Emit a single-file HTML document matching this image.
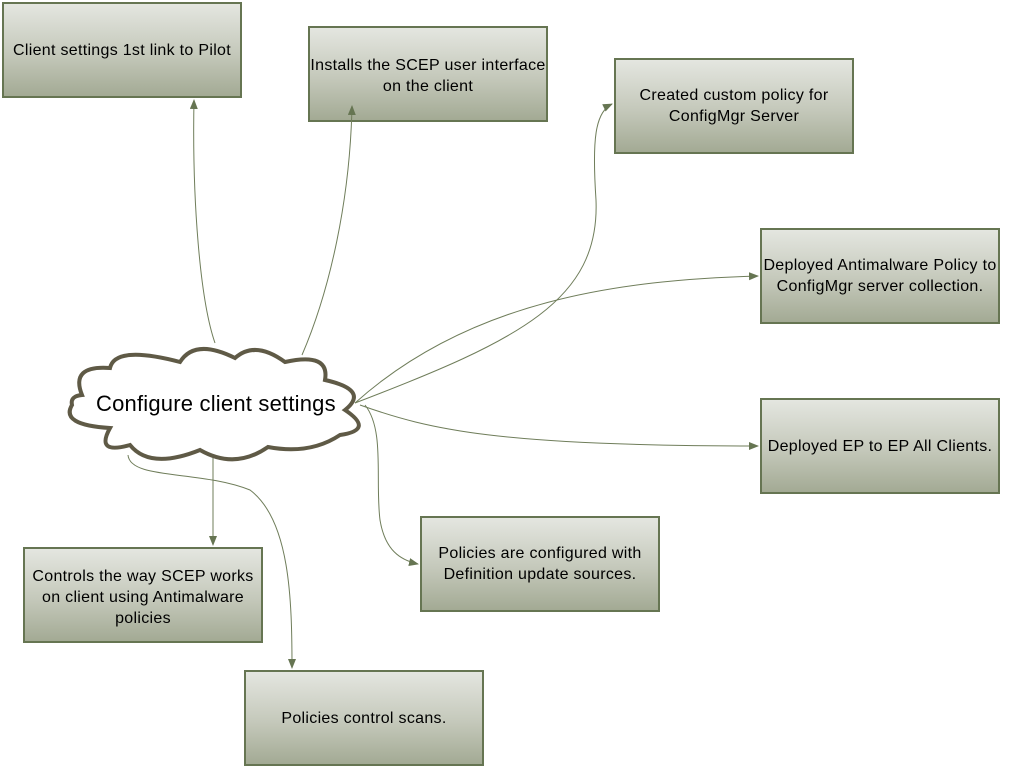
<!DOCTYPE html>
<html><head><meta charset="utf-8"><style>
body{margin:0;width:1011px;height:768px;background:#fff;overflow:hidden;position:relative;font-family:"Liberation Sans",sans-serif}
.b{position:absolute;width:236px;height:92px;border:2px solid #667552;background:linear-gradient(#e4e6e0,#c4c8ba 55%,#a3aa94);display:flex;align-items:center;justify-content:center;text-align:center;font-size:16px;line-height:21px;letter-spacing:0.3px;color:#000;box-sizing:content-box;white-space:nowrap}
svg{position:absolute;left:0;top:0}
.t{position:absolute;font-size:22px;letter-spacing:0.2px;left:96px;top:391px;white-space:nowrap}
</style></head><body>
<div class="b" style="left:2px;top:2px">Client settings 1st link to Pilot</div>
<div class="b" style="left:308px;top:26px;align-items:flex-start;padding-top:0"><div style="margin-top:27px">Installs the SCEP user interface<br>on the client</div></div>
<div class="b" style="left:614px;top:58px">Created custom policy for<br>ConfigMgr Server</div>
<div class="b" style="left:760px;top:228px;align-items:flex-start"><div style="margin-top:25px">Deployed Antimalware Policy to<br>ConfigMgr server collection.</div></div>
<div class="b" style="left:760px;top:398px">Deployed EP to EP All Clients.</div>
<div class="b" style="left:420px;top:516px;align-items:flex-start"><div style="margin-top:25px">Policies are configured with<br>Definition update sources.</div></div>
<div class="b" style="left:23px;top:547px;align-items:flex-start"><div style="margin-top:17px">Controls the way SCEP works<br>on client using Antimalware<br>policies</div></div>
<div class="b" style="left:244px;top:670px">Policies control scans.</div>
<svg width="1011" height="768">
<defs><marker id="a" markerWidth="10" markerHeight="10" refX="9" refY="4" orient="auto" markerUnits="userSpaceOnUse"><path d="M0,0 L10,4 L0,8 Z" fill="#667552"/></marker></defs>
<g fill="none" stroke="#6f7d5a" stroke-width="1" marker-end="url(#a)">
<path d="M215,343 C200,300 192,200 194,100"/>
<path d="M302,355 C330,290 350,200 352,106"/>
<path d="M355,403 C520,340 600,300 596,200 C592,140 595,112 612,104"/>
<path d="M355,403 C470,300 620,280 758,276"/>
<path d="M360,405 C430,430 500,446 758,446"/>
<path d="M365,405 C385,430 375,480 380,520 C385,550 400,560 418,564"/>
<path d="M213,455 L213,545"/>
<path d="M128,455 C130,480 200,470 250,490 C290,520 292,600 292,668"/>
</g>
<path d="M82,395 Q70,365 110,368 Q115,345 180,362 Q195,338 235,358 Q255,340 285,362 Q330,352 325,380 Q370,390 345,410 Q375,430 340,435 Q310,455 268,447 Q235,470 200,450 Q150,470 130,445 Q95,455 110,428 Q60,425 72,405 Q70,396 82,395 Z" fill="#fff" stroke="#5f5a46" stroke-width="4"/>
</svg>
<div class="t">Configure client settings</div>
</body></html>
